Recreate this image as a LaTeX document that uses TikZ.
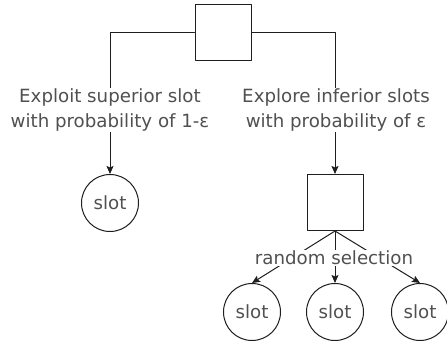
\documentclass[tikz,border=0pt]{standalone}
\usepackage{fontspec}
\setmainfont{DejaVu Sans}
\usepackage{tikz}
\usetikzlibrary{arrows.meta, positioning}

\definecolor{textgray}{RGB}{80,80,80}
\definecolor{linegray}{RGB}{30,30,30}

\tikzset{
  bandit/.style={draw=linegray, line width=1pt, minimum size=56pt, inner sep=0pt},
  slot/.style={draw=linegray, line width=1pt, circle, minimum size=57pt, inner sep=0pt, text=textgray},
  choice/.style={fill=white, align=center, text=textgray, inner sep=1pt},
  link/.style={draw=linegray, line width=1pt, ->},
}

\begin{document}
\begin{tikzpicture}[line cap=round,line join=round,>={Stealth[length=8pt,width=7pt,inset=1.5pt]},x=1pt,y=-1pt,
  every node/.style={font=\fontsize{18.2}{25}\selectfont}]
\fill[white] (0,0) rectangle (447,347);
\useasboundingbox (0,0) rectangle (447,347);

\node[bandit] (root) at (223, 33) {};
\node[slot] (best) at (110, 203) {slot};
\node[bandit] (pick) at (335, 202.5) {};

\node[slot] (slotA) at (252, 312) {slot};
\node[slot] (slotB) at (335, 312) {slot};
\node[slot] (slotC) at (420, 312) {slot};

\draw[link] (root.west) -| (best.north);
\draw[link] (root.east) -| (pick.north);

\draw[link] (pick.south) -- (slotA.north);
\draw[link] (pick.south) -- (slotB.north);
\draw[link] (pick.south) -- (slotC.north);

% labels on top of the connectors
\node[choice] (exploit) at (110, 110) {Exploit superior slot\\with probability of 1-ε};
\node[choice] (explore) at (336, 110) {Explore inferior slots\\with probability of ε};
\node[choice] (random) at (334, 258) {random selection};
\end{tikzpicture}
\end{document}
